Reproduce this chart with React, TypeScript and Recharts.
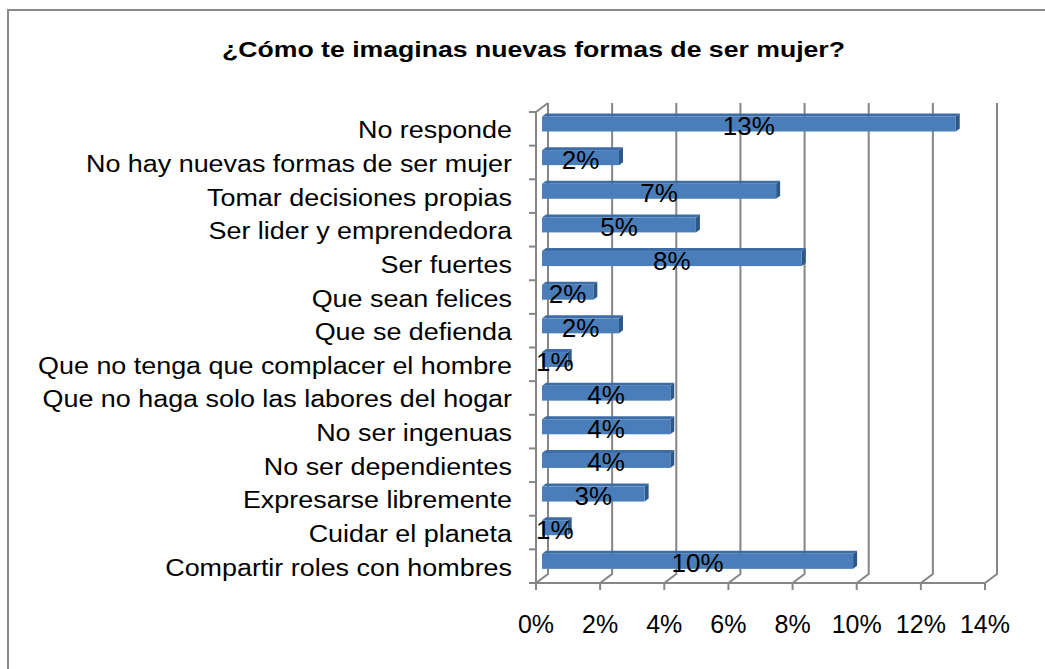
import React from 'react';
import { BarChart, Bar, XAxis, YAxis, CartesianGrid, LabelList } from 'recharts';

const categories = [
  'No responde',
  'No hay nuevas formas de ser mujer',
  'Tomar decisiones propias',
  'Ser lider y emprendedora',
  'Ser fuertes',
  'Que sean felices',
  'Que se defienda',
  'Que no tenga que complacer el hombre',
  'Que no haga solo las labores del hogar',
  'No ser ingenuas',
  'No ser dependientes',
  'Expresarse libremente',
  'Cuidar el planeta',
  'Compartir roles con hombres',
];
const values = [12.9, 2.4, 7.3, 4.8, 8.1, 1.6, 2.4, 0.8, 4.0, 4.0, 4.0, 3.2, 0.8, 9.7];
const xTicks = [0, 2, 4, 6, 8, 10, 12, 14];
const title = '¿Cómo te imaginas nuevas formas de ser mujer?';

const data = categories.map((name, i) => ({ name, value: values[i] }));

const FONT = '"Liberation Sans", Arial, sans-serif';
const W = 1045;
const H = 669;
const PLOT_LEFT = 542;
const PLOT_RIGHT = 991;
const PLOT_TOP = 107.5;
const PLOT_BOTTOM = 578.5;
const X_AXIS_H = 40;
const DX = 6; // depth offset x (half)
const DY = 4.5; // depth offset y (half)
const GRID = '#868686';
const BAND = (PLOT_BOTTOM - PLOT_TOP) / categories.length;

const gridLine = (p: any) => {
  const { x1, y1, y2, index, key } = p;
  let d = `M${x1 + DX},${y1 - DY} L${x1 + DX},${y2 - DY} L${x1 - DX},${y2 + DY}`;
  if (index === 0 || Math.abs(x1 - PLOT_LEFT) < 1) {
    d += ` M${x1 - DX},${y1 + DY} L${x1 + DX},${y1 - DY}`;
  }
  return <path key={key ?? `g-${index}`} d={d} stroke={GRID} strokeWidth={2} fill="none" />;
};

const YTick = (props: any) => {
  const { x, y, payload, index } = props;
  const top = y - BAND / 2 + DY;
  const bottom = y + BAND / 2 + DY;
  const last = index === categories.length - 1;
  return (
    <g>
      <line x1={x - DX - 7} y1={top} x2={x - DX} y2={top} stroke={GRID} strokeWidth={2} />
      {last && <line x1={x - DX - 7} y1={bottom} x2={x - DX} y2={bottom} stroke={GRID} strokeWidth={2} />}
      <text
        transform={`translate(${x - 30},${y + 14}) scale(1.17,1)`}
        textAnchor="end"
        fontFamily={FONT}
        fontSize={23}
        fill="#000"
      >
        {payload.value}
      </text>
    </g>
  );
};

const XTick = (props: any) => {
  const { x, y, payload } = props;
  return (
    <text x={x - DX} y={y + 45.5} textAnchor="middle" fontFamily={FONT} fontSize={25} fill="#000">
      {`${payload.value}%`}
    </text>
  );
};

const Bar3D = (props: any) => {
  const { x, y, width, height } = props;
  if (width == null || height == null) return null;
  const ex = 4;
  const ey = 3;
  return (
    <g>
      <path
        d={`M${x},${y} L${x + ex},${y - ey} L${x + width + ex},${y - ey} L${x + width},${y} Z`}
        fill="#3E6DA6"
      />
      <path
        d={`M${x + width},${y} L${x + width + ex},${y - ey} L${x + width + ex},${y + height - ey} L${x + width},${y + height} Z`}
        fill="#2C5888"
      />
      <rect x={x} y={y} width={width} height={height} fill="#4A7EBB" />
    </g>
  );
};

const BarLabel = (props: any) => {
  const { x, y, width, height, value } = props;
  return (
    <text
      x={x + width / 2}
      y={y + height / 2 + 11}
      textAnchor="middle"
      fontFamily={FONT}
      fontSize={26}
      fill="#000"
    >
      {`${Math.round(Number(value))}%`}
    </text>
  );
};

export default function App() {
  return (
    <div style={{ position: 'absolute', left: 0, top: 0, width: W, height: H, overflow: 'hidden', background: '#fff' }}>
      <div
        style={{
          position: 'absolute',
          left: 7,
          top: 9,
          width: W + 20,
          height: H + 20,
          borderLeft: '2px solid #8a8a8a',
          borderTop: '2px solid #8a8a8a',
          boxSizing: 'border-box',
        }}
      />
      <svg style={{ position: 'absolute', left: 0, top: 0 }} width={W} height={80}>
        <text
          x={533.5}
          y={57}
          textAnchor="middle"
          fontFamily={FONT}
          fontWeight="bold"
          fontSize={22}
          textLength={623}
          lengthAdjust="spacingAndGlyphs"
          fill="#000"
        >
          {title}
        </text>
      </svg>
      <div style={{ position: 'absolute', left: 0, top: 0 }}>
        <BarChart
          width={W}
          height={H}
          data={data}
          layout="vertical"
          barSize={15}
          margin={{ top: PLOT_TOP, right: W - PLOT_RIGHT, bottom: H - PLOT_BOTTOM - X_AXIS_H, left: 0 }}
        >
          <CartesianGrid horizontal={false} vertical={gridLine} />
          <XAxis
            type="number"
            domain={[0, 14]}
            ticks={xTicks}
            interval={0}
            height={X_AXIS_H}
            tickSize={7}
            axisLine={{ stroke: GRID, strokeWidth: 2, transform: `translate(${-DX},${DY})` } as any}
            tickLine={{ stroke: GRID, strokeWidth: 2, transform: `translate(${-DX},${DY})` } as any}
            tick={<XTick />}
          />
          <YAxis
            type="category"
            dataKey="name"
            width={PLOT_LEFT}
            interval={0}
            tickSize={0}
            tickMargin={0}
            tickLine={false}
            axisLine={{ stroke: GRID, strokeWidth: 2, transform: `translate(${-DX},${DY})` } as any}
            tick={<YTick />}
          />
          <Bar dataKey="value" isAnimationActive={false} shape={<Bar3D />}>
            <LabelList dataKey="value" content={<BarLabel />} />
          </Bar>
        </BarChart>
      </div>
    </div>
  );
}
